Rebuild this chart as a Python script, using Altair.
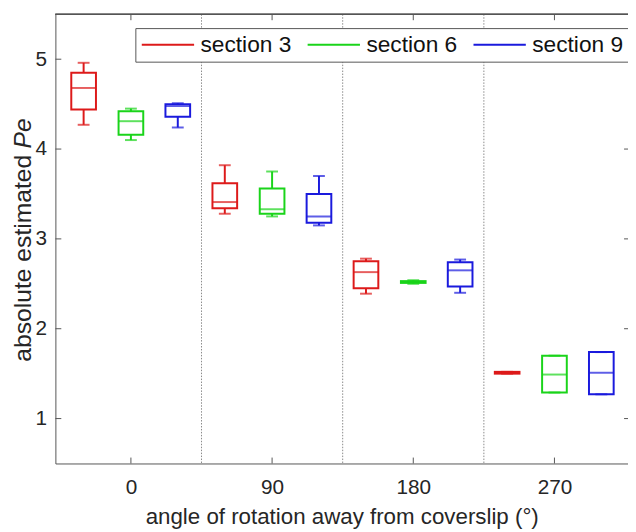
import json
import altair as alt
import pandas as pd

# ---------------- data ----------------
angles = ["0", "90", "180", "270"]
sections = ["section 3", "section 6", "section 9"]
colors = ["#dd1a1a", "#1ad41a", "#1a1add"]

# box statistics per section, one value per angle (0, 90, 180, 270)
lo_s3 = [4.27, 3.28, 2.39, 1.50]
q1_s3 = [4.44, 3.34, 2.45, 1.50]
med_s3 = [4.68, 3.41, 2.63, 1.51]
q3_s3 = [4.85, 3.62, 2.75, 1.52]
hi_s3 = [4.96, 3.82, 2.78, 1.52]

lo_s6 = [4.10, 3.25, 2.50, 1.29]
q1_s6 = [4.16, 3.28, 2.51, 1.29]
med_s6 = [4.31, 3.33, 2.52, 1.49]
q3_s6 = [4.42, 3.56, 2.53, 1.70]
hi_s6 = [4.45, 3.75, 2.54, 1.70]

lo_s9 = [4.24, 3.15, 2.40, 1.27]
q1_s9 = [4.36, 3.18, 2.47, 1.27]
med_s9 = [4.48, 3.25, 2.65, 1.51]
q3_s9 = [4.50, 3.50, 2.74, 1.74]
hi_s9 = [4.51, 3.70, 2.77, 1.74]

y_ticks = [1, 2, 3, 4, 5]

# ---------------- layout constants ----------------
offsets = [-0.335, 0.0, 0.332]
W, H = 580, 455
FONT = "Liberation Sans"
FRAME = "#555555"
TXT = "#262626"
TFS = 22.6
YFS = 25

stats = {
    "section 3": (lo_s3, q1_s3, med_s3, q3_s3, hi_s3),
    "section 6": (lo_s6, q1_s6, med_s6, q3_s6, hi_s6),
    "section 9": (lo_s9, q1_s9, med_s9, q3_s9, hi_s9),
}
rows = []
for si, s in enumerate(sections):
    lo, q1, med, q3, hi = stats[s]
    for gi, a in enumerate(angles):
        rows.append(dict(section=s, angle=a, xpos=gi + offsets[si],
                         lo=lo[gi], q1=q1[gi], med=med[gi], q3=q3[gi], hi=hi[gi]))
df = pd.DataFrame(rows)

sep_df = pd.DataFrame({"s": [i + 0.5 for i in range(len(angles) - 1)]})
xt_df = pd.DataFrame({"v": list(range(len(angles)))})
yt_df = pd.DataFrame({"v": y_ticks})

xscale = alt.Scale(domain=[-0.5, 3.486], nice=False, zero=False)
yscale = alt.Scale(domain=[0.5, 5.5], nice=False, zero=False)

label_expr = json.dumps(angles) + "[datum.value]"
xaxis = alt.Axis(values=list(range(len(angles))), labelExpr=label_expr, ticks=False,
                 grid=False, domainColor=FRAME, labelFontSize=21, labelFont=FONT,
                 labelColor=TXT, labelPadding=13,
                 title="angle of rotation away from coverslip (°)", titleFontSize=TFS,
                 titleFont=FONT, titleColor=TXT, titleFontWeight="normal", titlePadding=9)
yaxis = alt.Axis(values=y_ticks, format="d", ticks=False, grid=False, domainColor=FRAME,
                 labelFontSize=21, labelFont=FONT, labelColor=TXT, labelPadding=9,
                 title=None)

legend = alt.Legend(orient="none", legendX=81, legendY=14, direction="horizontal",
                    title=None, symbolType="M-2.65,0H2.65", symbolSize=400,
                    symbolOffset=16.5, symbolStrokeWidth=2, labelFontSize=23,
                    labelFont=FONT, labelColor="#111111", strokeColor=FRAME,
                    fillColor="white", padding=5, columnPadding=11, labelOffset=21.5,
                    columns=3, cornerRadius=0)
color = alt.Color("section:N", scale=alt.Scale(domain=sections, range=colors),
                  legend=legend)

X = alt.X("xpos:Q", scale=xscale, axis=xaxis)
Y = alt.Y("q1:Q", scale=yscale, axis=yaxis)

base = alt.Chart(df)

seps = alt.Chart(sep_df).mark_rule(color="#8a8a8a", strokeDash=[1.5, 1.5], strokeWidth=1).encode(
    x=alt.X("s:Q", scale=xscale), y=alt.value(0), y2=alt.value(H))

boxes = base.mark_bar(size=25, filled=False, strokeWidth=2).encode(
    x=X, y=Y, y2="q3:Q", color=color)
wlo = base.mark_rule(strokeWidth=2).encode(x="xpos:Q", y="lo:Q", y2="q1:Q", color=color)
whi = base.mark_rule(strokeWidth=2).encode(x="xpos:Q", y="q3:Q", y2="hi:Q", color=color)
meds = base.mark_tick(orient="horizontal", size=25, thickness=2).encode(
    x="xpos:Q", y="med:Q", color=color)
cap_lo = base.mark_tick(orient="horizontal", size=12, thickness=2).encode(
    x="xpos:Q", y="lo:Q", color=color)
cap_hi = base.mark_tick(orient="horizontal", size=12, thickness=2).encode(
    x="xpos:Q", y="hi:Q", color=color)

# frame (top line) and inward ticks
top_line = alt.Chart(yt_df).mark_rule(color=FRAME, strokeWidth=1).encode(
    y=alt.value(0), x=alt.value(0), x2=alt.value(W + 2))
lt = alt.Chart(yt_df).mark_rule(color=FRAME).encode(y=alt.Y("v:Q", scale=yscale), x=alt.value(0), x2=alt.value(6))
rt = alt.Chart(yt_df).mark_rule(color=FRAME).encode(y=alt.Y("v:Q", scale=yscale), x=alt.value(W - 4), x2=alt.value(W + 2))
bt = alt.Chart(xt_df).mark_rule(color=FRAME).encode(x=alt.X("v:Q", scale=xscale), y=alt.value(H), y2=alt.value(H - 6))
tt = alt.Chart(xt_df).mark_rule(color=FRAME).encode(x=alt.X("v:Q", scale=xscale), y=alt.value(0), y2=alt.value(6))

# y-axis title with italic "Pe"
YT_START = 352
ytitle1 = alt.Chart(pd.DataFrame({"t": ["absolute estimated"]})).mark_text(
    angle=270, align="left", baseline="middle", fontSize=YFS, font=FONT, color=TXT).encode(
    text="t:N", x=alt.value(-33), y=alt.value(YT_START))
ytitle2 = alt.Chart(pd.DataFrame({"t": ["Pe"]})).mark_text(
    angle=270, align="left", baseline="middle", fontSize=YFS, font=FONT, color=TXT,
    fontStyle="italic").encode(text="t:N", x=alt.value(-33), y=alt.value(YT_START - 216))

chart = alt.layer(
    boxes, seps, wlo, whi, meds, cap_lo, cap_hi,
    top_line, lt, rt, bt, tt, ytitle1, ytitle2
).properties(
    width=W, height=H,
    autosize=alt.AutoSizeParams(type="none"),
    padding={"left": 48, "top": 3, "right": 0, "bottom": 64},
).configure_view(stroke=None)

chart.save("out.html", embed_options={"renderer": "svg", "actions": False})
